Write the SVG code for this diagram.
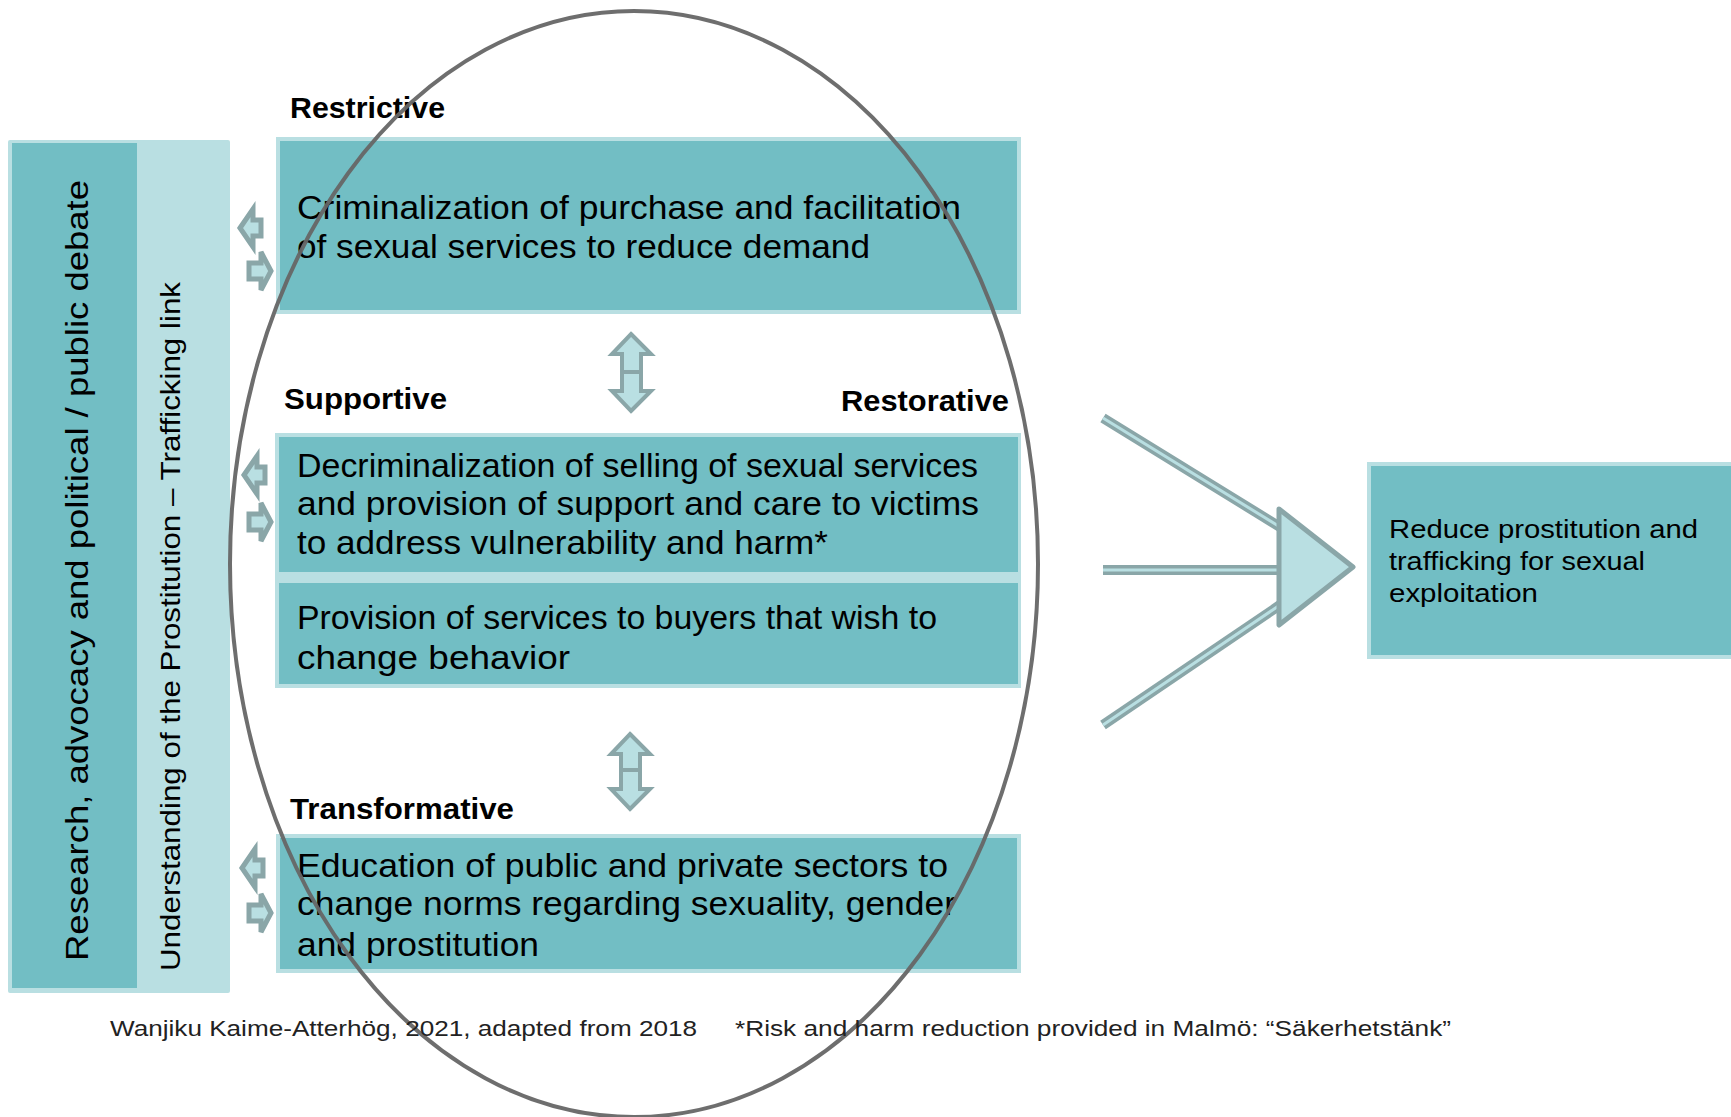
<svg xmlns="http://www.w3.org/2000/svg" width="1731" height="1117" viewBox="0 0 1731 1117">
<defs>
<style>
.dark{fill:#72bec4;stroke:#b9dfe2;stroke-width:4}
.light{fill:#b9dfe2;stroke:none}
.t{font-family:"Liberation Sans",Arial,sans-serif;fill:#000}
.body{font-size:33px}
.hdr{font-size:30px;font-weight:bold}
.foot{font-size:22px;fill:#222}
.sa{fill:#b9dfe2;stroke:#8aa6a8;stroke-width:5;stroke-linejoin:miter}
.da{fill:#b9dfe2;stroke:#8aa6a8;stroke-width:4;stroke-linejoin:miter}
.lineo{stroke:#8aa6a8;stroke-width:10;fill:none}
.linei{stroke:#b9dfe2;stroke-width:3;fill:none}
</style>
<path id="la" d="M2,0 L15,-19 L15,-8 L23,-8 L23,8 L15,8 L15,19 Z"/>
<path id="ra" d="M-2,0 L-12,-19 L-12,-8 L-24,-8 L-24,8 L-12,8 L-12,19 Z"/>
</defs>
<rect width="1731" height="1117" fill="#fff"/>

<g id="left-column">
<rect x="8" y="140" width="222" height="853" rx="2" class="light"/>
<rect x="12" y="143" width="125" height="845" fill="#72bec4"/>
<text class="t" font-size="32" transform="translate(88,961) rotate(-90)" textLength="781" lengthAdjust="spacingAndGlyphs">Research, advocacy and political / public debate</text>
<text class="t" font-size="28" transform="translate(180,971) rotate(-90)" textLength="689" lengthAdjust="spacingAndGlyphs">Understanding of the Prostitution – Trafficking link</text>
</g>

<g id="restrictive">
<rect x="278" y="139" width="741" height="173" class="dark"/>
<text class="t hdr" x="290" y="118" textLength="155" lengthAdjust="spacingAndGlyphs">Restrictive</text>
<text class="t body" x="297" y="219" textLength="664" lengthAdjust="spacingAndGlyphs">Criminalization of purchase and facilitation</text>
<text class="t body" x="297" y="258" textLength="573" lengthAdjust="spacingAndGlyphs">of sexual services to reduce demand</text>
</g>

<g id="supportive">
<rect x="275" y="433" width="746" height="255" class="light"/>
<rect x="279" y="437" width="739" height="135" fill="#72bec4"/>
<text class="t hdr" x="284" y="409" textLength="163" lengthAdjust="spacingAndGlyphs">Supportive</text>
<text class="t hdr" x="841" y="411" textLength="168" lengthAdjust="spacingAndGlyphs">Restorative</text>
<text class="t body" x="297" y="477" textLength="681" lengthAdjust="spacingAndGlyphs">Decriminalization of selling of sexual services</text>
<text class="t body" x="297" y="515" textLength="682" lengthAdjust="spacingAndGlyphs">and provision of support and care to victims</text>
<text class="t body" x="297" y="554" textLength="531" lengthAdjust="spacingAndGlyphs">to address vulnerability and harm*</text>
</g>

<g id="buyers">
<rect x="279" y="583" width="739" height="101" fill="#72bec4"/>
<text class="t body" x="297" y="629" textLength="640" lengthAdjust="spacingAndGlyphs">Provision of services to buyers that wish to</text>
<text class="t body" x="297" y="669" textLength="273" lengthAdjust="spacingAndGlyphs">change behavior</text>
</g>

<g id="transformative">
<rect x="278" y="836" width="741" height="135" class="dark"/>
<text class="t hdr" x="290" y="819" textLength="224" lengthAdjust="spacingAndGlyphs">Transformative</text>
<text class="t body" x="297" y="877" textLength="651" lengthAdjust="spacingAndGlyphs">Education of public and private sectors to</text>
<text class="t body" x="297" y="915" textLength="659" lengthAdjust="spacingAndGlyphs">change norms regarding sexuality, gender</text>
<text class="t body" x="297" y="956" textLength="242" lengthAdjust="spacingAndGlyphs">and prostitution</text>
</g>

<g id="outcome">
<rect x="1369" y="464" width="366" height="193" class="dark"/>
<text class="t" font-size="26" x="1389" y="538" textLength="309" lengthAdjust="spacingAndGlyphs">Reduce prostitution and</text>
<text class="t" font-size="26" x="1389" y="570" textLength="256" lengthAdjust="spacingAndGlyphs">trafficking for sexual</text>
<text class="t" font-size="26" x="1389" y="602" textLength="149" lengthAdjust="spacingAndGlyphs">exploitation</text>
</g>

<g id="connectors">
<use href="#la" x="238" y="228" class="sa"/>
<use href="#ra" x="273" y="271" class="sa"/>
<use href="#la" x="242" y="475" class="sa"/>
<use href="#ra" x="273" y="522" class="sa"/>
<use href="#la" x="240" y="868" class="sa"/>
<use href="#ra" x="273" y="913" class="sa"/>

<path class="da" d="M631,334 L651,354 L641,354 L641,374 L622,374 L622,354 L612,354 Z"/>
<path class="da" d="M631,411 L651,391 L641,391 L641,372 L622,372 L622,391 L612,391 Z"/>
<path class="da" d="M630,734 L650,754 L640,754 L640,774 L621,774 L621,754 L611,754 Z"/>
<path class="da" d="M630,809 L650,789 L640,789 L640,770 L621,770 L621,789 L611,789 Z"/>

<line class="lineo" x1="1103" y1="418" x2="1280" y2="527"/>
<line class="linei" x1="1103" y1="418" x2="1280" y2="527"/>
<line class="lineo" x1="1103" y1="570" x2="1280" y2="570"/>
<line class="linei" x1="1103" y1="570" x2="1280" y2="570"/>
<line class="lineo" x1="1103" y1="725" x2="1280" y2="605"/>
<line class="linei" x1="1103" y1="725" x2="1280" y2="605"/>
<path d="M1279,509 L1353,567 L1279,625 Z" fill="#b9dfe2" stroke="#8aa6a8" stroke-width="5" stroke-linejoin="round"/>
</g>

<g id="ellipse">
<ellipse cx="634" cy="564" rx="404" ry="553" fill="none" stroke="#666" stroke-width="4" opacity="0.95"/>
</g>

<g id="footer">
<text class="t foot" x="110" y="1036" textLength="587" lengthAdjust="spacingAndGlyphs">Wanjiku Kaime-Atterhög, 2021, adapted from 2018</text>
<text class="t foot" x="735" y="1036" textLength="716" lengthAdjust="spacingAndGlyphs">*Risk and harm reduction provided in Malmö: “Säkerhetstänk”</text>
</g>
</svg>
